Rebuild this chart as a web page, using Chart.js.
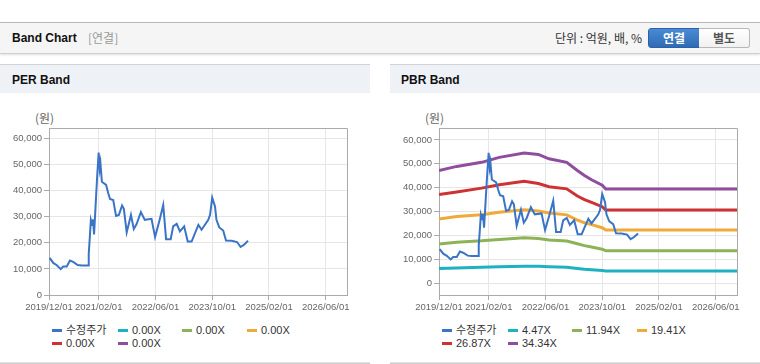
<!DOCTYPE html>
<html><head><meta charset="utf-8">
<script src="https://cdn.jsdelivr.net/npm/chart.js@4"></script>
<style>
body{margin:0;width:760px;height:364px;position:relative;background:#fff;font-family:"Liberation Sans","Noto Sans CJK KR",sans-serif;overflow:hidden}
.a{position:absolute;white-space:nowrap}
#topbar{left:0;top:22px;width:760px;height:30px;background:#f5f5f5;border-top:1px solid #b8b8b8;border-bottom:1px solid #cfcfcf;box-shadow:0 1px 2px rgba(0,0,0,0.12)}
.ph{top:64px;height:28px;background:#eef2f7;border-top:1px solid #cfd3d8}
.pt{font-weight:bold;font-size:12px;color:#111;top:73px}
.btn{top:28px;height:18px;font-size:12px;font-weight:bold;text-align:center;line-height:18px;font-family:"Noto Sans CJK KR",sans-serif}
.unit{font-size:12px;color:#333;line-height:14px}
.lg{font-size:11px;color:#333;line-height:13px;font-family:"Liberation Sans","Noto Sans CJK KR",sans-serif}
.lg i{position:absolute;left:0;top:5px;width:10px;height:3px}
.bl{top:362px;height:1px;background:#cfcfcf;border-top:1px solid #e2e2e2}
</style></head><body>
<div id="topbar" class="a"></div>
<div class="a" style="left:12px;top:31px;font-weight:bold;font-size:12px;color:#111;line-height:14px">Band Chart</div>
<div class="a" style="left:88px;top:31px;font-size:12px;color:#999;line-height:14px;font-family:'Noto Sans CJK KR',sans-serif">[연결]</div>
<div class="a unit" style="right:118px;top:31px;font-family:'Noto Sans CJK KR',sans-serif">단위 : 억원, 배, %</div>
<div class="a btn" style="left:648px;width:50px;background:linear-gradient(#4a8bd4,#2f6bb4);border:1px solid #2b62a6;border-radius:3px 0 0 3px;color:#fff">연결</div>
<div class="a btn" style="left:699px;width:50px;background:linear-gradient(#fff,#f1f1f1);border:1px solid #b8b8b8;border-left:none;border-radius:0 3px 3px 0;color:#555">별도</div>

<div class="a ph" style="left:0;width:370px"></div>
<div class="a ph" style="left:390px;width:370px"></div>
<div class="a pt" style="left:12px;line-height:14px">PER Band</div>
<div class="a pt" style="left:401px;line-height:14px">PBR Band</div>
<div class="a" style="left:35px;top:111px;font-size:12px;color:#666;line-height:14px;font-family:'Noto Sans CJK KR',sans-serif">(원)</div>
<div class="a" style="left:425px;top:111px;font-size:12px;color:#666;line-height:14px;font-family:'Noto Sans CJK KR',sans-serif">(원)</div>

<canvas id="per" class="a" style="left:0;top:95px" width="370" height="225"></canvas>
<canvas id="pbr" class="a" style="left:390px;top:95px" width="370" height="225"></canvas>
<div id="lg1"></div><div id="lg2"></div>
<div class="a bl" style="left:0;width:370px"></div>
<div class="a bl" style="left:390px;width:370px"></div>

<script>
// ---- data ----
const xTickMonths = [0, 14, 30, 46, 62, 78];
const xTickLabels = ['2019/12/01', '2021/02/01', '2022/06/01', '2023/10/01', '2025/02/01', '2026/06/01'];
const xMaxMonth = 84;
const yTickValues = [0, 10000, 20000, 30000, 40000, 50000, 60000];

const priceMonths = [0.2, 1.2, 2.2, 3.3, 4.0, 5.0, 5.9, 6.8, 8.1, 9.2, 11.0, 11.2, 11.5, 11.8, 12.2, 12.4, 12.7, 13.0, 13.3, 13.6, 14.0, 14.3, 14.5, 14.9, 16.1, 16.7, 17.2, 18.1, 18.9, 19.7, 20.6, 21.1, 21.9, 23.1, 23.9, 24.7, 25.9, 27.0, 28.9, 29.9, 31.1, 32.2, 33.0, 34.3, 35.0, 36.0, 36.9, 38.1, 39.1, 40.2, 42.1, 43.0, 44.9, 45.4, 46.0, 46.8, 47.2, 48.0, 49.1, 49.9, 51.5, 53.0, 54.0, 55.0, 56.1];
const priceValues = [14200, 12300, 11400, 9900, 10900, 10900, 13200, 12700, 11500, 11300, 11300, 15800, 22000, 28800, 26800, 29000, 23200, 30700, 38500, 46000, 54600, 48500, 50500, 43400, 42200, 39000, 36800, 36400, 30300, 30700, 34300, 33000, 24000, 30700, 25300, 27200, 31800, 28800, 29200, 22200, 28400, 34500, 21400, 21400, 26300, 27300, 24400, 26300, 20500, 20500, 26900, 25000, 28800, 30700, 37300, 33900, 28800, 25900, 24700, 20900, 20800, 20300, 18400, 19300, 20800];

const bandMonths = [0, 5, 12, 17, 24, 28, 31, 36, 39, 41, 43, 46, 47, 84];
const band447  = [6100, 6300, 6600, 6800, 7100, 7000, 6800, 6600, 6100, 5800, 5600, 5300, 5100, 5100];
const band1194 = [16400, 17100, 17700, 18300, 19000, 18700, 18100, 17600, 16500, 15700, 15100, 14200, 13600, 13600];
const band1941 = [26800, 27900, 28600, 29700, 30700, 30200, 29400, 28600, 26400, 25300, 24500, 23200, 22200, 22200];
const band2687 = [37100, 38200, 39800, 41200, 42700, 41700, 40400, 39500, 36500, 35000, 33800, 32000, 30600, 30600];
const band3434 = [47200, 48900, 50600, 52700, 54500, 53900, 52100, 50600, 47200, 45100, 43300, 41000, 39400, 39400];

const perLabels = ['수정주가', '0.00X', '0.00X', '0.00X', '0.00X', '0.00X'];
const pbrLabels = ['수정주가', '4.47X', '11.94X', '19.41X', '26.87X', '34.34X'];
const colors = ['#3a74c6', '#1fb0c2', '#8db356', '#f0aa3a', '#cf3232', '#8f4d9d'];

// ---- helpers ----
const pts = (xs, ys) => xs.map((x, i) => ({x: x, y: ys[i]}));
const tickFont = {family: '"Liberation Sans",sans-serif', size: 9.5};

const frame = {
  id: 'frame',
  beforeDatasetsDraw(chart) {
    const a = chart.chartArea, c = chart.ctx;
    c.save(); c.strokeStyle = '#aaaaaa'; c.lineWidth = 1;
    c.beginPath();
    c.moveTo(a.left, a.top + 0.5); c.lineTo(a.right + 0.5, a.top + 0.5); c.lineTo(a.right + 0.5, a.bottom);
    c.stroke(); c.restore();
  }
};

function makeChart(id, datasets, yMin, yMax) {
  return new Chart(document.getElementById(id), {
    type: 'line',
    data: {datasets: datasets},
    options: {
      responsive: false, animation: false,
      layout: {padding: {left: 0, right: 23, top: 33, bottom: 0}},
      plugins: {legend: {display: false}, tooltip: {enabled: false}},
      elements: {point: {radius: 0}, line: {tension: 0}},
      scales: {
        x: {
          type: 'linear', min: 0, max: xMaxMonth,
          afterBuildTicks: s => { s.ticks = xTickMonths.map(v => ({value: v})); },
          afterFit: s => { s.height = 25; },
          ticks: {font: tickFont, color: '#666', padding: 2, maxRotation: 0, autoSkip: false,
            callback: v => xTickLabels[xTickMonths.indexOf(v)]},
          grid: {color: '#e6e6e6', tickColor: '#aaaaaa', tickLength: 5},
          border: {color: '#aaaaaa'}
        },
        y: {
          type: 'linear', min: yMin, max: yMax,
          afterBuildTicks: s => { s.ticks = yTickValues.map(v => ({value: v})); },
          afterFit: s => { s.width = 49; },
          ticks: {font: tickFont, color: '#666', padding: 2, autoSkip: false,
            callback: v => v.toLocaleString('en-US')},
          grid: {color: '#e6e6e6', tickColor: '#aaaaaa', tickLength: 5},
          border: {color: '#aaaaaa'}
        }
      }
    },
    plugins: [frame]
  });
}

const priceDs = (label) => ({label: label, data: pts(priceMonths, priceValues), borderColor: colors[0], borderWidth: 2, order: 0});

makeChart('per', [priceDs(perLabels[0])], 0, 64000);

const bands = [band447, band1194, band1941, band2687, band3434];
makeChart('pbr', [priceDs(pbrLabels[0])].concat(bands.map((b, i) => ({
  label: pbrLabels[i + 1], data: pts(bandMonths, b), borderColor: colors[i + 1], borderWidth: 3, order: 1
}))), -5000, 65000);

// ---- legends ----
function legend(elId, base, labels) {
  const cols = [0, 66, 130, 195];
  const el = document.getElementById(elId);
  labels.forEach((t, i) => {
    const d = document.createElement('div');
    d.className = 'a lg';
    d.style.left = (base + cols[i % 4]) + 'px';
    d.style.top = (324 + Math.floor(i / 4) * 13) + 'px';
    d.style.paddingLeft = '14px';
    d.innerHTML = '<i style="background:' + colors[i] + '"></i>' + t;
    el.appendChild(d);
  });
}
legend('lg1', 52, perLabels);
legend('lg2', 442, pbrLabels);
</script>
</body></html>
